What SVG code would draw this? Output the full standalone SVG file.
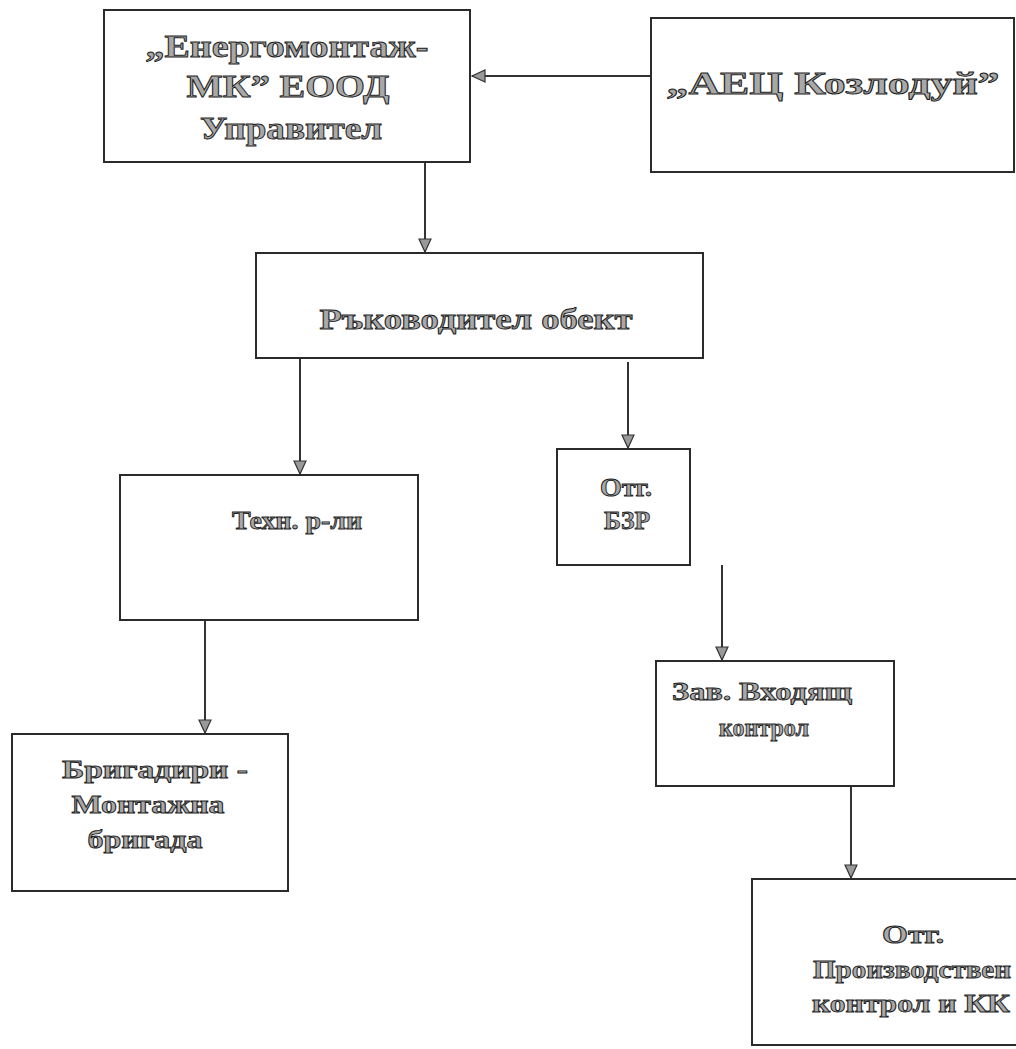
<svg xmlns="http://www.w3.org/2000/svg" width="1016" height="1049" viewBox="0 0 1016 1049">
<defs>
<style>
.box{fill:#fff;stroke:#2b2b2b;stroke-width:2}
.t{font-family:"Liberation Serif","DejaVu Serif",serif;font-weight:bold;fill:#a8a8a8;stroke:#1e1e1e;stroke-width:0.9;text-anchor:middle}
.big{font-size:32px}
.mid{font-size:29px}
.sm{font-size:26px}
.con{stroke:#333;stroke-width:2;fill:none;marker-end:url(#ah)}
</style>
<marker id="ah" markerWidth="16" markerHeight="16" refX="14" refY="7" orient="auto" markerUnits="userSpaceOnUse">
<path d="M1,1 L14,7 L1,13 Z" fill="#999" stroke="#333" stroke-width="1.2"/>
</marker>
</defs>
<rect width="1016" height="1049" fill="#fff"/>
<g id="connectors">
<line class="con" x1="651" y1="76" x2="472" y2="76"/>
<line class="con" x1="425" y1="162" x2="425" y2="252"/>
<line class="con" x1="300" y1="358" x2="300" y2="474"/>
<line class="con" x1="628" y1="362" x2="628" y2="448"/>
<line class="con" x1="205" y1="620" x2="205" y2="733"/>
<line class="con" x1="722" y1="565" x2="722" y2="660"/>
<line class="con" x1="851" y1="786" x2="851" y2="878"/>
</g>
<g id="n1">
<rect class="box" x="104" y="10" width="366" height="152"/>
<text class="t big" x="287" y="57" textLength="283" lengthAdjust="spacingAndGlyphs">„Енергомонтаж-</text>
<text class="t big" x="288" y="97" textLength="203" lengthAdjust="spacingAndGlyphs">МК” ЕООД</text>
<text class="t big" x="291" y="139" textLength="182" lengthAdjust="spacingAndGlyphs">Управител</text>
</g>
<g id="n2">
<rect class="box" x="651" y="18" width="363" height="154"/>
<text class="t big" x="833" y="94" textLength="333" lengthAdjust="spacingAndGlyphs">„АЕЦ Козлодуй”</text>
</g>
<g id="n3">
<rect class="box" x="256" y="253" width="447" height="105"/>
<text class="t mid" x="476" y="329" textLength="313" lengthAdjust="spacingAndGlyphs">Ръководител обект</text>
</g>
<g id="n4">
<rect class="box" x="120" y="475" width="298" height="145"/>
<text class="t sm" x="297" y="529" textLength="130" lengthAdjust="spacingAndGlyphs">Техн. р-ли</text>
</g>
<g id="n5">
<rect class="box" x="557" y="449" width="133" height="116"/>
<text class="t sm" x="626" y="496" textLength="52" lengthAdjust="spacingAndGlyphs">Отг.</text>
<text class="t sm" x="627" y="529" textLength="46" lengthAdjust="spacingAndGlyphs">БЗР</text>
</g>
<g id="n6">
<rect class="box" x="12" y="734" width="276" height="157"/>
<text class="t sm" x="155" y="778" textLength="186" lengthAdjust="spacingAndGlyphs">Бригадири -</text>
<text class="t sm" x="148" y="813" textLength="153" lengthAdjust="spacingAndGlyphs">Монтажна</text>
<text class="t sm" x="145" y="848" textLength="115" lengthAdjust="spacingAndGlyphs">бригада</text>
</g>
<g id="n7">
<rect class="box" x="656" y="661" width="238" height="125"/>
<text class="t sm" x="762" y="700" textLength="180" lengthAdjust="spacingAndGlyphs">Зав. Входящ</text>
<text class="t sm" x="764" y="736" textLength="90" lengthAdjust="spacingAndGlyphs">контрол</text>
</g>
<g id="n8">
<rect class="box" x="752" y="879" width="270" height="166"/>
<text class="t sm" x="913" y="943" textLength="62" lengthAdjust="spacingAndGlyphs">Отг.</text>
<text class="t sm" x="912" y="978" textLength="198" lengthAdjust="spacingAndGlyphs">Производствен</text>
<text class="t sm" x="911" y="1012" textLength="198" lengthAdjust="spacingAndGlyphs">контрол и КК</text>
</g>
</svg>
